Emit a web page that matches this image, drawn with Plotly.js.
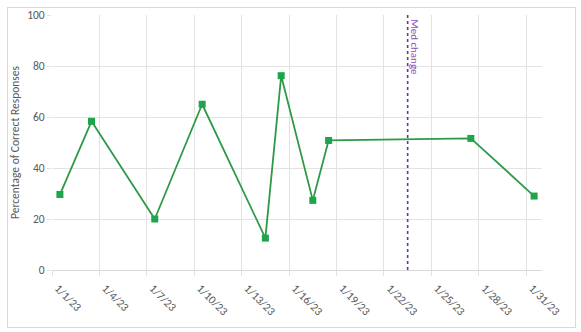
<!DOCTYPE html>
<html>
<head>
<meta charset="utf-8">
<script src="https://cdn.plot.ly/plotly-3.0.1.min.js"></script>
<style>
  html, body { margin: 0; padding: 0; background: #ffffff; }
  #wrap { position: relative; width: 581px; height: 332px; }
  #frame { position: absolute; left: 7px; top: 7px; width: 567px; height: 319px;
           border: 1px solid #d9d9d9; box-sizing: content-box; }
  #chart { position: absolute; left: 0; top: 0; width: 581px; height: 332px; }
</style>
</head>
<body>
<div id="wrap">
  <div id="frame"></div>
  <div id="chart"></div>
</div>
<script>
// Session dates and percentage of correct responses
const sessionDates = ['2023-01-01', '2023-01-03', '2023-01-07', '2023-01-10', '2023-01-14',
                      '2023-01-15', '2023-01-17', '2023-01-18', '2023-01-27', '2023-01-31'];
const percentCorrect = [29.6, 58.3, 20, 65, 12.5, 76.2, 27.3, 50.8, 51.6, 29];

// Date of the medication change and the vertical marker span
const medChangeDate = '2023-01-23';
const medChangeSpan = [0, 100];
const medChangeLabel = 'Med change';

const yTitle = 'Percentage of Correct Responses';
const xRange = ['2023-01-01', '2023-02-01'];
const yRange = [0, 100];

const DAY = 86400000;
const FONT = 'Carlito, Calibri, Lato, sans-serif';

const traces = [
  {
    x: sessionDates,
    y: percentCorrect,
    type: 'scatter',
    mode: 'lines+markers',
    xperiod: DAY,
    xperiodalignment: 'middle',
    line: { color: '#2e9a48', width: 1.8 },
    marker: { symbol: 'square', size: 7, color: '#1ea54c' },
    hoverinfo: 'x+y'
  },
  {
    x: [medChangeDate, medChangeDate],
    y: medChangeSpan,
    type: 'scatter',
    mode: 'lines',
    xperiod: DAY,
    xperiodalignment: 'middle',
    line: { color: '#7030a0', width: 1.6, dash: 'dot' },
    hoverinfo: 'skip'
  }
];

const layout = {
  width: 581,
  height: 332,
  margin: { l: 52, r: 39, t: 15, b: 62 },
  paper_bgcolor: 'rgba(0,0,0,0)',
  plot_bgcolor: 'rgba(0,0,0,0)',
  showlegend: false,
  font: { family: FONT, color: '#595959', size: 11 },
  xaxis: {
    type: 'date',
    range: xRange,
    tick0: '2023-01-01',
    dtick: 3 * DAY,
    tickformat: '%-m/%-d/%y',
    tickangle: 45,
    ticklabelshift: 6,
    ticklabelstandoff: 1,
    showgrid: true,
    gridcolor: '#e3e3e3',
    gridwidth: 1,
    showline: true,
    linecolor: '#d9d9d9',
    linewidth: 1,
    ticks: 'outside',
    ticklen: 5,
    tickcolor: '#e3e3e3',
    tickfont: { family: FONT, size: 11.5, color: '#595959' },
    zeroline: false,
    fixedrange: true
  },
  yaxis: {
    range: yRange,
    dtick: 20,
    title: {
      text: yTitle,
      standoff: 5,
      font: { family: FONT, size: 11.5, color: '#595959' }
    },
    showgrid: true,
    gridcolor: '#e3e3e3',
    gridwidth: 1,
    showline: false,
    zeroline: false,
    ticks: 'outside',
    ticklen: 4,
    tickcolor: '#e3e3e3',
    tickfont: { family: FONT, size: 11.5, color: '#595959' },
    fixedrange: true
  },
  annotations: [
    {
      x: medChangeDate,
      y: 100,
      xref: 'x',
      yref: 'y',
      text: medChangeLabel,
      textangle: 90,
      showarrow: false,
      xanchor: 'center',
      yanchor: 'top',
      xshift: 15,
      yshift: -2,
      font: { family: FONT, size: 11, color: '#8a4cc0' }
    }
  ]
};

Plotly.newPlot('chart', traces, layout, { displayModeBar: false, staticPlot: true });
</script>
</body>
</html>
